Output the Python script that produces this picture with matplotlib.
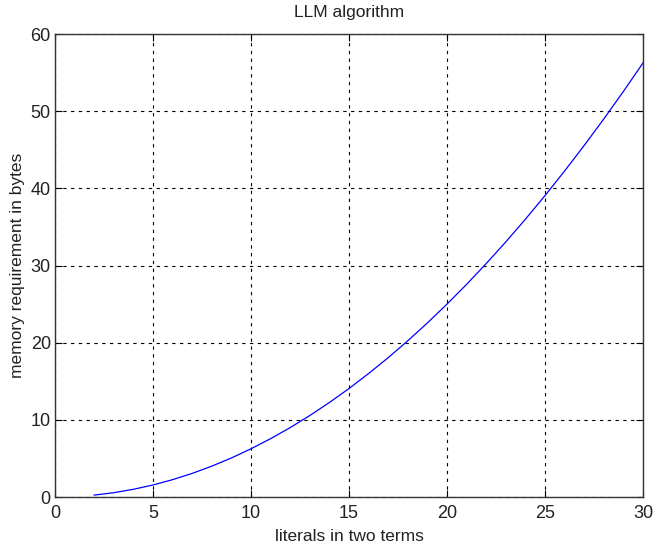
import matplotlib
matplotlib.use("Agg")
import matplotlib.pyplot as plt

# values at each whole number of literals
literals = [2, 3, 4, 5, 6, 7, 8, 9, 10, 11, 12, 13, 14, 15, 16,
            17, 18, 19, 20, 21, 22, 23, 24, 25, 26, 27, 28, 29, 30]
memory = [0.25, 0.56, 1.0, 1.56, 2.25, 3.06, 4.0, 5.06, 6.25, 7.56, 9.0,
          10.56, 12.25, 14.06, 16.0, 18.06, 20.25, 22.56, 25.0, 27.56,
          30.25, 33.06, 36.0, 39.06, 42.25, 45.56, 49.0, 52.56, 56.25]

plt.rcParams['font.family'] = ['Liberation Sans', 'DejaVu Sans']
txt = '#222222'

fig = plt.figure(figsize=(6.53, 5.46), dpi=100)
ax = fig.add_axes([0.0842, 0.0897, 0.9005, 0.848])

ax.plot(literals, memory, color='blue', linewidth=0.9)

ax.set_xlim(0, 30)
ax.set_ylim(0, 60)
ax.set_xticks(range(0, 31, 5))
ax.set_yticks(range(0, 61, 10))
ax.grid(True, color='black', linestyle=(0, (3, 4)), linewidth=0.8)
ax.tick_params(direction='in', top=True, right=True, labelsize=13, length=5,
               width=0.8, labelcolor=txt, pad=3)
ax.tick_params(axis='x', pad=6)
for s in ax.spines.values():
    s.set_linewidth(1.0)
    s.set_color('#333333')

ax.set_title("LLM algorithm", fontsize=12.5, color=txt, pad=12)
ax.set_xlabel("literals in two terms", fontsize=12.5, color=txt, labelpad=5)
ax.set_ylabel("memory requirement in bytes", fontsize=12.5, color=txt,
              labelpad=4)

fig.savefig("out.png", dpi=100)
